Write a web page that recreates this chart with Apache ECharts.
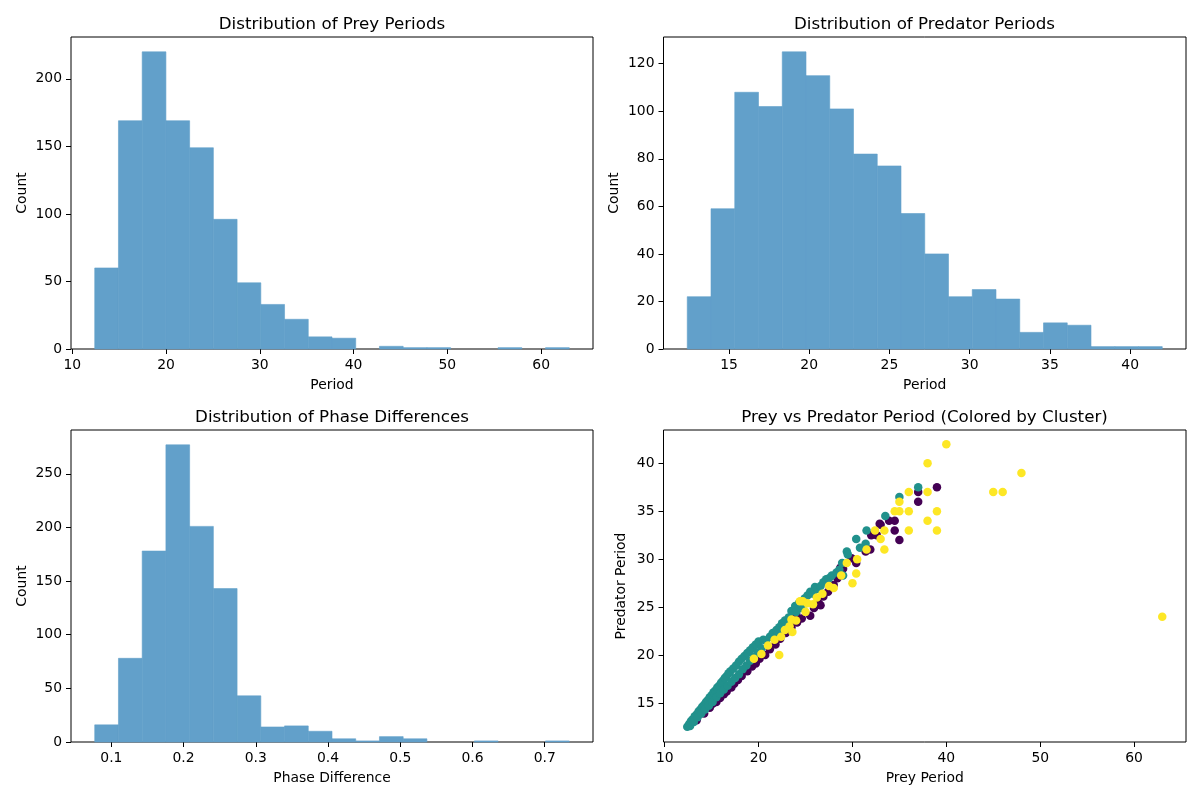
<!DOCTYPE html>
<html><head><meta charset="utf-8">
<script src="https://cdn.jsdelivr.net/npm/echarts@6/dist/echarts.min.js"></script>
<style>html,body{margin:0;padding:0;background:#fff}#c{width:1200px;height:800px}</style>
</head><body><div id="c"></div><script>
// ---------- data ----------
const preyRange = [12.4, 63.0];
const preyCounts = [60,169,220,169,149,96,49,33,22,9,8,0,2,1,1,0,0,1,0,1];
const predRange = [12.4, 42.0];
const predCounts = [22,59,108,102,125,115,101,82,77,57,40,22,25,21,7,11,10,1,1,1];
const phaseRange = [0.077, 0.734];
const phaseCounts = [16,78,178,277,201,143,43,14,15,10,3,1,5,3,0,0,1,0,0,1];

const preyXTicks = [10,20,30,40,50,60];
const preyYTicks = [0,50,100,150,200];
const predXTicks = [15,20,25,30,35,40];
const predYTicks = [0,20,40,60,80,100,120];
const phaseXTicks = [0.1,0.2,0.3,0.4,0.5,0.6,0.7];
const phaseYTicks = [0,50,100,150,200,250];
const scatterXTicks = [10,20,30,40,50,60];
const scatterYTicks = [15,20,25,30,35,40];

// scatter points [prey period, predator period] per cluster
const cluster0 = [
 [13.4,13.2],[14.2,13.9],[14.8,14.5],[15.1,14.9],[15.5,15.1],[15.9,15.5],[16.3,15.9],[16.6,16.2],
 [17.1,16.6],[17.4,17.0],[17.8,17.4],[18.2,17.8],[18.8,18.3],[19.3,18.8],[19.7,19.1],[20.1,19.6],
 [20.7,20.0],[21.2,20.6],[21.8,21.1],[22.3,21.7],[22.9,22.3],[23.5,22.9],[24.1,23.4],[24.6,23.8],
 [25.5,24.1],[25.9,24.9],[26.4,25.4],[26.6,25.2],[26.9,26.1],[27.4,26.6],[28.0,27.3],[28.4,28.0],
 [28.7,29.1],[29.0,29.0],[29.9,30.1],[30.4,29.6],[31.4,30.8],[31.9,31.0],[32.0,32.5],[32.6,32.5],
 [32.9,33.7],[33.0,33.6],[33.9,34.0],[34.5,34.0],[34.5,33.0],[35.0,32.0],[37.0,37.0],[37.0,36.0],
 [39.0,37.5],[24.0,24.3],[22.0,22.2]
];
const cluster1 = [
 [12.4,12.5],[12.6,12.8],[12.8,13.1],[13.0,13.3],[13.2,13.6],[13.4,13.8],[13.6,14.1],[13.8,14.3],
 [14.0,14.6],[14.2,14.8],[14.4,15.1],[14.6,15.3],[14.8,15.6],[15.0,15.8],[15.2,16.1],[15.4,16.3],
 [15.6,16.6],[15.8,16.8],[16.0,17.1],[16.2,17.3],[16.4,17.6],[16.6,17.8],[16.8,18.1],[17.0,18.3],
 [17.3,18.6],[17.6,18.9],[17.9,19.3],[18.2,19.6],[18.5,19.9],[18.8,20.2],[19.1,20.5],[19.4,20.8],
 [19.7,21.1],[20.0,21.4],[20.5,21.6],
 [12.7,12.6],[13.1,13.0],[13.5,13.5],[13.9,13.9],[14.3,14.3],[14.7,14.7],[15.1,15.1],[15.5,15.6],
 [15.9,16.0],[16.3,16.4],[16.7,16.8],[17.1,17.2],[17.5,17.6],[17.9,18.0],[18.3,18.5],[18.7,18.9],
 [19.1,19.4],[19.5,19.8],[19.9,20.2],[20.3,20.7],
 [20.8,21.5],[21.2,21.9],[21.5,22.3],[21.9,22.6],[22.2,22.9],[22.5,23.3],[22.8,23.6],[23.2,23.9],
 [23.4,23.7],[22.0,22.2],[24.5,24.9],[25.0,25.4],
 [23.5,24.6],[23.9,25.1],[24.0,24.5],[24.3,25.4],[24.6,25.6],[24.9,25.9],[25.2,26.2],[25.5,26.6],
 [25.8,26.4],[26.0,27.1],[26.3,26.9],[26.6,27.2],[26.9,27.6],[27.2,27.9],[27.5,28.0],[27.8,28.3],
 [28.3,28.6],[28.6,28.9],[28.9,29.6],[29.0,28.3],[29.4,30.8],[29.5,30.5],[30.4,32.1],[30.8,31.2],
 [31.4,31.6],[31.5,33.0],[33.5,34.5],[35.0,36.5],[37.0,37.5]
];
const cluster2 = [
 [19.5,19.6],[20.3,20.1],[21.0,21.0],[21.7,21.6],[22.2,20.0],[22.4,21.9],[22.8,22.6],[23.3,23.0],
 [23.5,23.7],[23.6,22.4],[24.0,23.6],[24.4,25.6],[24.7,25.6],[25.0,24.5],[25.2,25.4],[25.8,25.3],
 [26.2,26.0],[26.8,26.4],[27.5,27.2],[28.0,27.0],[28.8,28.3],[29.4,29.6],[30.0,27.5],[30.4,28.5],
 [30.5,30.0],[31.5,31.0],[32.4,33.0],[33.0,32.1],[33.4,33.0],[33.4,31.0],[34.5,35.0],[35.0,35.0],
 [35.0,36.0],[36.0,37.0],[36.0,35.0],[36.0,33.0],[38.0,37.0],[38.0,34.0],[38.0,40.0],[39.0,35.0],
 [39.0,33.0],[40.0,42.0],[45.0,37.0],[46.0,37.0],[48.0,39.0],[63.0,24.0]
];

// ---------- helpers ----------
const FONT = 'DejaVu Sans';
const BAR_COLOR = '#62a0ca';
const CLUSTER_COLORS = ['#440154', '#21918c', '#fde725'];

function histData(counts, range) {
  const w = (range[1] - range[0]) / counts.length;
  return counts.map((c, i) => [range[0] + i * w, range[0] + (i + 1) * w, c]);
}
function padded(range) {
  const m = (range[1] - range[0]) * 0.05;
  return [range[0] - m, range[1] + m];
}
function valAxis(gridIndex, lim, ticks, name, gap) {
  return {
    type: 'value', gridIndex, min: lim[0], max: lim[1],
    name, nameLocation: 'middle', nameGap: gap,
    nameTextStyle: { fontFamily: FONT, fontSize: 13.9, color: '#000' },
    axisLine: { show: false },
    splitLine: { show: false },
    axisTick: { show: true, inside: false, length: 5, lineStyle: { color: '#000', width: 1 }, customValues: ticks },
    axisLabel: { show: true, margin: 9, fontFamily: FONT, fontSize: 13.9, color: '#000', customValues: ticks,
      formatter: v => String(+v.toFixed(3)) }
  };
}
function histSeries(idx, counts, range) {
  return {
    type: 'custom', xAxisIndex: idx, yAxisIndex: idx,
    data: histData(counts, range),
    renderItem: (params, api) => {
      if (!(api.value(2) > 0)) return null;
      const p0 = api.coord([api.value(0), api.value(2)]);
      const p1 = api.coord([api.value(1), 0]);
      return { type: 'rect', shape: { x: p0[0], y: p0[1], width: p1[0] - p0[0], height: p1[1] - p0[1] },
        style: { fill: BAR_COLOR, stroke: BAR_COLOR, lineWidth: 0.6 } };
    }
  };
}
const titleStyle = { fontFamily: FONT, fontSize: 16.7, fontWeight: 'normal', color: '#000' };
const gridBase = { show: true, borderColor: '#000', borderWidth: 1, backgroundColor: 'transparent' };

const scatterX = padded(preyRange);
const scatterY = padded(predRange);

const option = {
  backgroundColor: '#fff',
  animation: false,
  title: [
    { text: 'Distribution of Prey Periods', left: 332, top: 16, padding: 0, textAlign: 'center', textStyle: titleStyle },
    { text: 'Distribution of Predator Periods', left: 924.5, top: 16, padding: 0, textAlign: 'center', textStyle: titleStyle },
    { text: 'Distribution of Phase Differences', left: 332, top: 409, padding: 0, textAlign: 'center', textStyle: titleStyle },
    { text: 'Prey vs Predator Period (Colored by Cluster)', left: 924.5, top: 409, padding: 0, textAlign: 'center', textStyle: titleStyle }
  ],
  grid: [
    Object.assign({ left: 71, top: 37, width: 522, height: 312 }, gridBase),
    Object.assign({ left: 663.5, top: 37, width: 522.5, height: 312 }, gridBase),
    Object.assign({ left: 71, top: 430, width: 522, height: 312 }, gridBase),
    Object.assign({ left: 663.5, top: 430, width: 522.5, height: 312 }, gridBase)
  ],
  xAxis: [
    valAxis(0, padded(preyRange), preyXTicks, 'Period', 29),
    valAxis(1, padded(predRange), predXTicks, 'Period', 29),
    valAxis(2, padded(phaseRange), phaseXTicks, 'Phase Difference', 29),
    valAxis(3, scatterX, scatterXTicks, 'Prey Period', 29)
  ],
  yAxis: [
    valAxis(0, [0, Math.max(...preyCounts) * 1.05], preyYTicks, 'Count', 42),
    valAxis(1, [0, Math.max(...predCounts) * 1.05], predYTicks, 'Count', 42),
    valAxis(2, [0, Math.max(...phaseCounts) * 1.05], phaseYTicks, 'Count', 42),
    valAxis(3, scatterY, scatterYTicks, 'Predator Period', 35)
  ],
  series: [
    histSeries(0, preyCounts, preyRange),
    histSeries(1, predCounts, predRange),
    histSeries(2, phaseCounts, phaseRange),
    ...[cluster0, cluster1, cluster2].map((pts, k) => ({
      type: 'scatter', xAxisIndex: 3, yAxisIndex: 3, data: pts,
      symbol: 'circle', symbolSize: 8.5,
      itemStyle: { color: CLUSTER_COLORS[k], opacity: 1 },
      emphasis: { disabled: true }
    }))
  ]
};
const chart = echarts.init(document.getElementById('c'), null, { renderer: 'canvas' });
chart.setOption(option);
</script></body></html>
